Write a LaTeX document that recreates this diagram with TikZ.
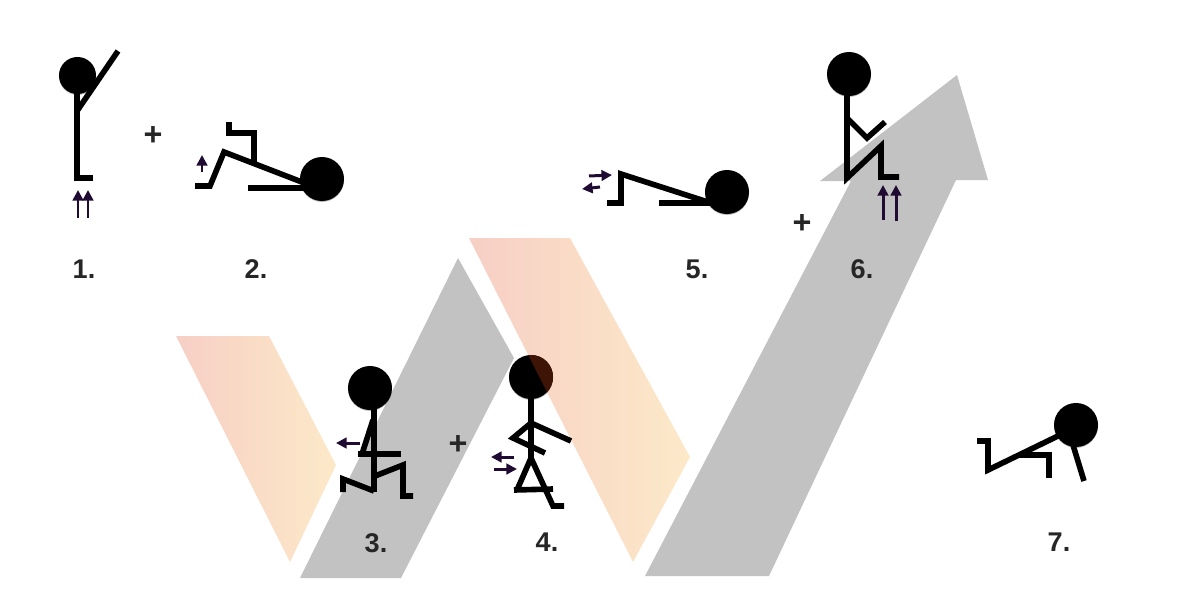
\documentclass[tikz,border=0pt]{standalone}
\usepackage{fontspec}
\setmainfont{Liberation Sans}
\usetikzlibrary{arrows.meta,shadows}
\definecolor{bandgray}{RGB}{194,194,194}
\definecolor{bandpink}{RGB}{247,207,197}
\definecolor{bandyellow}{RGB}{252,233,200}
\definecolor{arrowink}{RGB}{32,12,50}
\definecolor{labelink}{RGB}{38,38,38}
\definecolor{headbrown}{RGB}{62,20,6}
\tikzset{
    limb/.style={line width=1.6pt, line join=miter},
    head/.style={circle, fill=black, inner sep=0pt, minimum size=0.44cm,
        general shadow={shadow yshift=-0.25pt, opacity=0.3, fill=black, scale=1.02}},
    small head/.style={head, minimum size=0.37cm},
    force/.style={line width=0.85pt, arrowink, -{Triangle[length=3pt,width=3pt]}},
    steplabel/.style={font=\bfseries\fontsize{7.7pt}{9pt}\selectfont, text=labelink},
    plus/.style={font=\bfseries\fontsize{9.2pt}{10pt}\selectfont, text=labelink},
    band/.style={shading=axis, left color=bandpink, right color=bandyellow, draw=none}
}
\begin{document}
\begin{tikzpicture}[x=0.01cm,y=-0.01cm]
        \useasboundingbox (0,0) rectangle (1200,600);

        % background bands
        \fill[bandgray] (458,258) -- (514,358) -- (401,578) -- (300,578) -- cycle;
        \fill[bandgray] (957,75) -- (988,180) -- (956,180) -- (769,576) -- (645,576) -- (851,181) -- (820,181) -- cycle;
        \path[band] (176,336) -- (269,336) -- (336,465) -- (290,562) -- cycle;
        \path[band] (469,238) -- (570,238) -- (690,457) -- (633,562) -- cycle;

        % 1
        \draw[limb] (77,85) -- (77,178) -- (93,178);
        \draw[limb] (77,111) -- (118,51);
        \node[small head] (head1) at (77.5,75.5) {};
        \draw[force] (78,218) -- (78,190);
        \draw[force] (88,218) -- (88,190);

        % 2
        \coordinate (neck2a) at (306,188);
        \coordinate (neck2b) at (307,184);
        \draw[limb] (248,188) -- (neck2a);
        \draw[limb] (195,186) -- (210,186) -- (224,152) -- (neck2b);
        \draw[limb] (254,164) -- (254,133) -- (229,133) -- (229,122);
        \node[head] (head2) at (322,179) {};
        \draw[force] (202,172) -- (202,155);

        % 3
        \draw[limb] (374,400) -- (374,492);
        \draw[limb] (343,492) -- (343,479) -- (374,491);
        \draw[limb] (375,476) -- (403,465) -- (403,496) -- (413,496);
        \draw[limb] (373,420) -- (362,454);
        \draw[limb] (358,454) -- (401,454);
        \node[head] (head3) at (370,388) {};
        \draw[force] (360,443) -- (336,443);

        % 4
        \node[head] (head4) at (531,377) {};
        \begin{scope}
            \clip (469,238) -- (570,238) -- (690,457) -- (633,562) -- cycle;
            \fill[headbrown] (531,377) circle (22);
        \end{scope}
        \draw[limb] (531,397) -- (531,458);
        \draw[limb] (571,441) -- (531,423) -- (513,438) -- (545,453);
        \draw[limb] (531,458) -- (517,490);
        \draw[limb] (531,458) -- (553,506) -- (564,506);
        \draw[limb] (514,490) -- (553,489);
        \draw[force] (514,457) -- (491,457);
        \draw[force] (494,469) -- (517,469);

        % 5
        \coordinate (neck5a) at (711,203);
        \coordinate (neck5b) at (711,203);
        \draw[limb] (659,203) -- (neck5a);
        \draw[limb] (607,203) -- (621,203) -- (621,174) -- (neck5b);
        \node[head] (head5) at (727,192) {};
        \draw[force] (589,176) -- (612,175);
        \draw[force] (600,187) -- (582,189);

        % 6
        \draw[limb] (847,90) -- (847,178) -- (881,146) -- (881,177) -- (899,177);
        \draw[limb] (847,118) -- (867,138) -- (885,122);
        \node[head] (head6) at (849,74) {};
        \draw[force] (883,220) -- (883,185);
        \draw[force] (896,221) -- (896,185);

        % 7
        \coordinate (neck7) at (1060,435);
        \draw[limb] (977,441) -- (988,441) -- (988,470) -- (neck7);
        \draw[limb] (1018,455) -- (1049,455) -- (1049,478);
        \draw[limb] (1073,445) -- (1084,481);
        \node[head] (head7) at (1076,425) {};

        \node[plus] (plus1) at (153,136) {+};
        \node[plus] (plus2) at (458,445) {+};
        \node[plus] (plus3) at (802,224) {+};

        \node[steplabel] (label1) at (84,269) {1.};
        \node[steplabel] (label2) at (256,269) {2.};
        \node[steplabel] (label3) at (376,543) {3.};
        \node[steplabel] (label4) at (547,542) {4.};
        \node[steplabel] (label5) at (697,269) {5.};
        \node[steplabel] (label6) at (862,269) {6.};
        \node[steplabel] (label7) at (1059,542) {7.};

    \end{tikzpicture}
\end{document}
